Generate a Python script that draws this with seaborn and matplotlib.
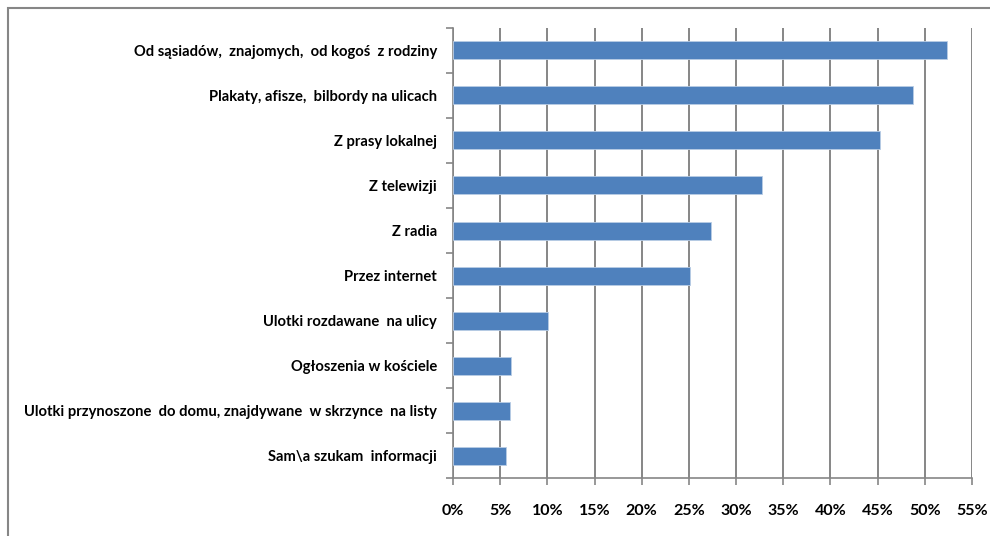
import matplotlib
matplotlib.use("Agg")
import matplotlib.pyplot as plt
import seaborn as sns
import pandas as pd
import numpy as np
from matplotlib.patches import Rectangle
from matplotlib.ticker import FixedLocator, FuncFormatter

categories = [
    "Od sąsiadów,  znajomych,  od kogoś  z rodziny",
    "Plakaty, afisze,  bilbordy na ulicach",
    "Z prasy lokalnej",
    "Z telewizji",
    "Z radia",
    "Przez internet",
    "Ulotki rozdawane  na ulicy",
    "Ogłoszenia w kościele",
    "Ulotki przynoszone  do domu, znajdywane  w skrzynce  na listy",
    "Sam\\a szukam  informacji",
]
values = [52.4, 48.8, 45.2, 32.7, 27.3, 25.1, 10.1, 6.1, 6.0, 5.6]
x_ticks = [0, 5, 10, 15, 20, 25, 30, 35, 40, 45, 50, 55]

sns.set_theme(style="white")
plt.rcParams['font.family'] = ['Lato', 'DejaVu Sans']

df = pd.DataFrame({"cat": categories, "val": values})

fig = plt.figure(figsize=(9.9, 5.36), dpi=100)
W, H = 990, 536
ax = fig.add_axes([453 / W, 1 - 478 / H, (972 - 453) / W, (478 - 28) / H])

sns.barplot(data=df, x="val", y="cat", orient="h", color="#4F81BD",
            width=0.4, edgecolor="#B9CDE5", linewidth=0.6, saturation=1, ax=ax, zorder=3)

ax.set_xlim(0, 55)
ax.set_ylim(len(categories) - 0.5, -0.5)
ax.xaxis.set_major_locator(FixedLocator(x_ticks))
ax.xaxis.set_major_formatter(FuncFormatter(lambda v, p: f"{int(v)}%"))
ax.grid(axis="x", color="#868686", linewidth=1.4, zorder=0)
ax.set_axisbelow(True)
ax.set_xlabel("")
ax.set_ylabel("")

for s in ["top", "right"]:
    ax.spines[s].set_visible(False)
for s in ["left", "bottom"]:
    ax.spines[s].set_color("#868686")
    ax.spines[s].set_linewidth(1.2)

ax.tick_params(axis="y", which="major", length=0, pad=11.5, labelsize=10.6)
ax.yaxis.set_minor_locator(FixedLocator(np.arange(-0.5, len(categories) + 0.5, 1)))
ax.tick_params(axis="y", which="minor", length=5, width=1.2, color="#868686", left=True)
ax.tick_params(axis="x", which="major", length=5, width=1.2, color="#868686",
               bottom=True, pad=14, labelsize=11.5)
for lab in ax.get_yticklabels() + ax.get_xticklabels():
    lab.set_fontweight("bold")
    lab.set_color("black")

fig.patches.append(Rectangle((8 / W, -0.1), 1.0, 1 - 8 / H + 0.1, transform=fig.transFigure,
                             fill=False, edgecolor="#868686", linewidth=1.5))

fig.savefig("out.png", dpi=100)
